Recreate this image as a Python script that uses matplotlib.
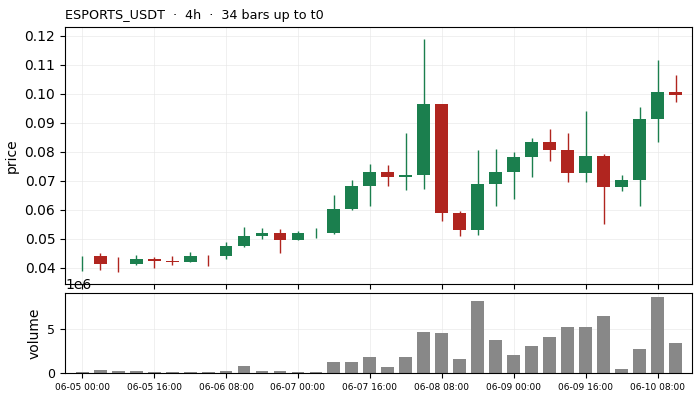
import matplotlib
matplotlib.use("Agg")
import matplotlib.pyplot as plt
import numpy as np

labels_times = ["06-05 00:00", "06-05 16:00", "06-06 08:00", "06-07 00:00", "06-07 16:00",
                "06-08 08:00", "06-09 00:00", "06-09 16:00", "06-10 08:00"]

opens = [0.04060, 0.0439, 0.04190, 0.0413, 0.0431, 0.0423, 0.0420, 0.04220, 0.0441, 0.0475,
         0.0509, 0.0520, 0.0495, 0.05190, 0.0520, 0.0602, 0.0683, 0.0729, 0.0713, 0.0720,
         0.0965, 0.0589, 0.0531, 0.0688, 0.0729, 0.0781, 0.0832, 0.0805, 0.0726, 0.0784,
         0.0678, 0.0702, 0.0914, 0.1006]
closes = [0.04063, 0.0414, 0.04187, 0.0429, 0.0424, 0.0420, 0.0439, 0.04217, 0.0474, 0.0508,
          0.0520, 0.0495, 0.0520, 0.05193, 0.0602, 0.0682, 0.0729, 0.0713, 0.0719, 0.0965,
          0.0590, 0.0531, 0.0688, 0.0729, 0.0781, 0.0832, 0.0805, 0.0726, 0.0784, 0.0678,
          0.0702, 0.0914, 0.1006, 0.0996]
highs = [0.0439, 0.0449, 0.0436, 0.0443, 0.0436, 0.0439, 0.0453, 0.0443, 0.0487, 0.0539,
         0.0536, 0.0532, 0.0525, 0.0536, 0.0651, 0.0702, 0.0757, 0.0753, 0.0865, 0.1190,
         0.0965, 0.0595, 0.0805, 0.0811, 0.0798, 0.0849, 0.0880, 0.0865, 0.0941, 0.0793,
         0.0719, 0.0954, 0.1118, 0.1064]
lows = [0.0390, 0.0393, 0.0384, 0.0409, 0.0398, 0.0410, 0.0418, 0.0407, 0.0430, 0.0471,
        0.0500, 0.0452, 0.0495, 0.0503, 0.0517, 0.0600, 0.0614, 0.0683, 0.0669, 0.0673,
        0.0560, 0.0508, 0.0512, 0.0614, 0.0638, 0.0713, 0.0768, 0.0696, 0.0696, 0.0549,
        0.0666, 0.0614, 0.0833, 0.0973]
volumes = [0.15, 0.37, 0.26, 0.26, 0.15, 0.15, 0.15, 0.15, 0.26, 0.81,
           0.26, 0.26, 0.15, 0.15, 1.26, 1.26, 1.81, 0.70, 1.81, 4.59,
           4.48, 1.59, 8.15, 3.70, 2.04, 3.04, 4.04, 5.15, 5.15, 6.48,
           0.48, 2.70, 8.59, 3.37]
volumes = [v * 1e6 for v in volumes]

GREEN = "#1b7f4e"
RED = "#b0251f"

fig = plt.figure(figsize=(7, 4), dpi=100)
ax = fig.add_axes([65/700, 1-284/400, 627/700, 257/400])
axv = fig.add_axes([65/700, 1-373/400, 627/700, 80/400], sharex=ax)

x = np.arange(len(opens))
o = np.array(opens); c = np.array(closes); h = np.array(highs); l = np.array(lows)
up = c >= o
colors = np.where(up, GREEN, RED)
ax.vlines(x, l, h, colors=colors, linewidth=1.0, zorder=2)
bottoms = np.minimum(o, c)
heights = np.abs(c - o)
ax.bar(x, heights, bottom=bottoms, width=0.72, color=colors, zorder=3, linewidth=0)

axv.bar(x, volumes, width=0.72, color="#888888", zorder=2)

for a in (ax, axv):
    a.grid(True, color="#e6e6e6", linewidth=0.6, alpha=0.7, zorder=0)
    a.set_axisbelow(True)

ax.set_xlim(-0.95, 33.9)
tick_pos = np.arange(0, 34, 4)
axv.set_xticks(tick_pos)
axv.set_xticklabels(labels_times, fontsize=6.5)
plt.setp(ax.get_xticklabels(), visible=False)
ax.set_ylabel("price", fontsize=10)
axv.set_ylabel("volume", fontsize=10)
ax.set_title("ESPORTS_USDT  ·  4h  ·  34 bars up to t0", loc="left", fontsize=9.2)
ax.tick_params(labelsize=10)
axv.tick_params(axis="y", labelsize=9)

fig.savefig("out.png", dpi=100)
